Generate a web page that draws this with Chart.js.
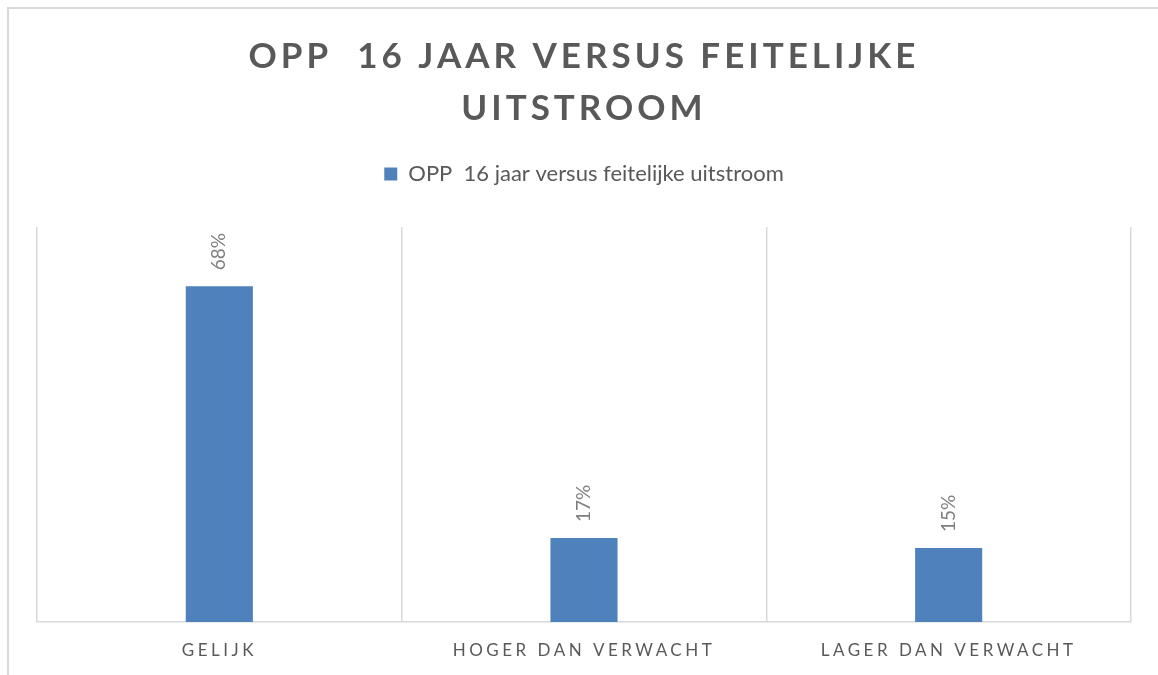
<!DOCTYPE html>
<html>
<head>
<meta charset="utf-8">
<script src="https://cdn.jsdelivr.net/npm/chart.js@4.4.1/dist/chart.umd.min.js"></script>
<style>
	html, body { margin: 0; padding: 0; background: #fff; overflow: hidden; }
	#wrap { position: absolute; left: 0; top: 0; width: 1158px; height: 675px; }
	#frame {
		position: absolute; left: 7px; top: 7px; width: 1200px; height: 720px;
		border: 2px solid #d9d9d9; pointer-events: none;
	}
</style>
</head>
<body>
<div id="wrap"><canvas id="barChart"></canvas></div>
<div id="frame"></div>
<script>
const categories = ['GELIJK', 'HOGER DAN VERWACHT', 'LAGER DAN VERWACHT'];
const percentages = [68, 17, 15];
const seriesName = 'OPP  16 jaar versus feitelijke uitstroom';
const titleLines = ['OPP  16 JAAR VERSUS FEITELIJKE', 'UITSTROOM'];

const textGrey = '#595959';
const gridGrey = '#d9d9d9';
const barBlue = '#4f81bd';

// canvas has no letter-spacing option in Chart.js, so wrap the title and x labels draw
const letterSpacing = {
	id: 'letterSpacing',
	afterLayout(chart) {
		const wrap = (obj, method, spacing) => {
			if (!obj || obj['_spaced_' + method]) return;
			const original = obj[method];
			obj[method] = function (...args) {
				const c = this.ctx;
				const old = c.letterSpacing;
				c.letterSpacing = spacing;
				original.apply(this, args);
				c.letterSpacing = old;
			};
			obj['_spaced_' + method] = true;
		};
		wrap(chart.titleBlock, 'draw', '4px');
		wrap(chart.scales.x, 'drawLabels', '3.5px');
	},
};

// extra gap between legend and plot area
const legendGap = {
	id: 'legendGap',
	beforeInit(chart) {
		const fit = chart.legend.fit;
		chart.legend.fit = function () {
			fit.call(this);
			this.height += 32;
		};
	},
};

// rotated percentage labels above the bars
const barValueLabels = {
	id: 'barValueLabels',
	afterDatasetsDraw(chart) {
		const ctx = chart.ctx;
		const meta = chart.getDatasetMeta(0);
		ctx.save();
		ctx.font = '19px Lato';
		ctx.fillStyle = '#7f7f7f';
		ctx.textAlign = 'left';
		ctx.textBaseline = 'middle';
		meta.data.forEach((bar, i) => {
			ctx.save();
			ctx.translate(bar.x, bar.y - 16);
			ctx.rotate(-Math.PI / 2);
			ctx.fillText(percentages[i] + '%', 0, 0);
			ctx.restore();
		});
		ctx.restore();
	},
};

const data = {
	labels: categories,
	datasets: [
		{
			label: seriesName,
			data: percentages,
			backgroundColor: barBlue,
			borderWidth: 0,
			categoryPercentage: 0.184,
			barPercentage: 1,
		},
	],
};

const options = {
	responsive: true,
	maintainAspectRatio: false,
	animation: false,
	layout: {
		padding: { left: 37, right: 27, top: 0, bottom: 0 },
	},
	plugins: {
		title: {
			display: true,
			text: titleLines,
			color: textGrey,
			font: { family: 'Lato', size: 35, weight: 'bold', lineHeight: 1.5 },
			padding: { top: 30, bottom: 18 },
		},
		legend: {
			display: true,
			labels: {
				color: textGrey,
				font: { family: 'Lato', size: 22 },
				boxWidth: 13,
				boxHeight: 13,
				padding: 10,
			},
		},
		tooltip: { enabled: false },
	},
	scales: {
		x: {
			grid: {
				display: true,
				color: gridGrey,
				lineWidth: 1.5,
				offset: true,
				drawTicks: false,
			},
			border: { display: true, color: gridGrey, width: 1.5 },
			ticks: {
				color: textGrey,
				font: { family: 'Lato', size: 17 },
				padding: 18,
				maxRotation: 0,
			},
			afterFit(scale) {
				scale.height = 53;
			},
		},
		y: {
			display: false,
			min: 0,
			max: 80,
		},
	},
};

new Chart(document.getElementById('barChart'), {
	type: 'bar',
	data,
	options,
	plugins: [letterSpacing, legendGap, barValueLabels],
});
</script>
</body>
</html>
